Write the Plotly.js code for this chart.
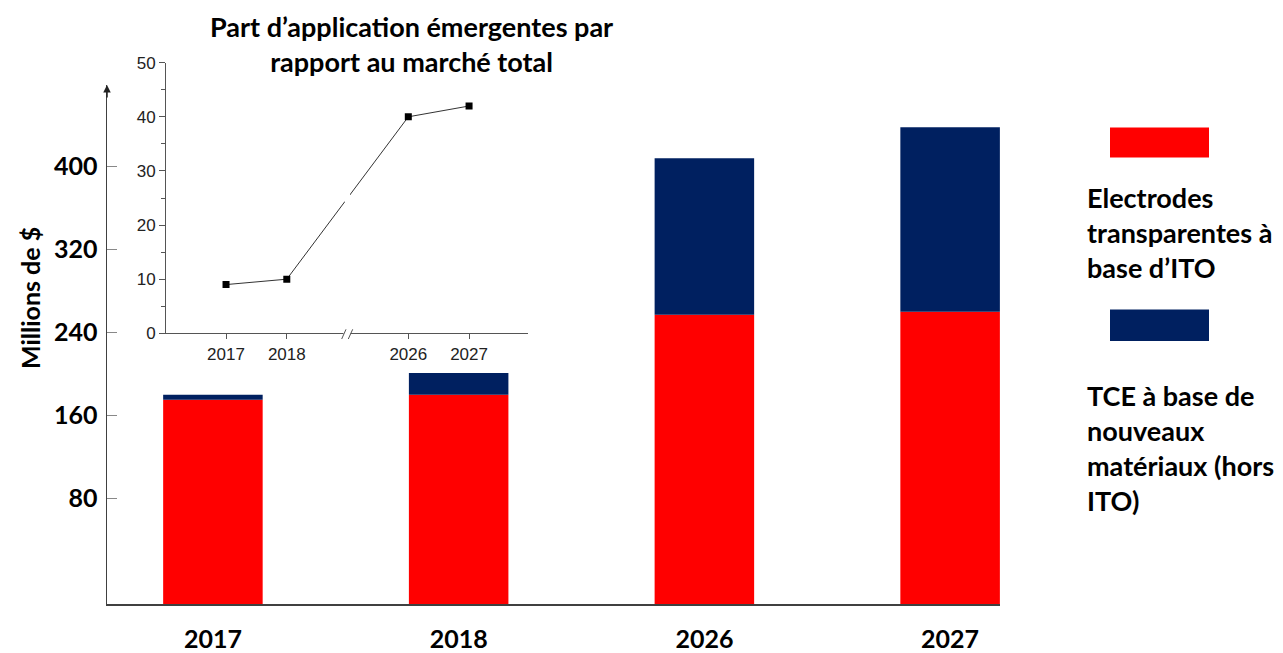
<!DOCTYPE html>
<html><head><meta charset="utf-8">
<script src="https://cdn.plot.ly/plotly-3.0.1.min.js"></script>
<style>body{margin:0;background:#fff}</style>
</head><body><div id="chart" style="width:1283px;height:653px"></div>
<script>
// ---- data ----
const years = ['2017', '2018', '2026', '2027'];
const itoValues = [175, 180, 257, 260];          // Electrodes transparentes à base d'ITO
const newMaterialValues = [5, 21, 151, 178];     // TCE à base de nouveaux matériaux (hors ITO)
const yTicks = [80, 160, 240, 320, 400];
const insetYears = [2017, 2018, 2026, 2027];
const insetShare = [9, 10, 40, 42];               // Part d'applications émergentes (%)
const insetTicks = [0, 10, 20, 30, 40, 50];

// ---- layout helpers (pixel geometry) ----
const W = 1283, H = 653;
const M = {l: 107, r: 283, t: 30, b: 49};
const PW = W - M.l - M.r, PH = H - M.t - M.b;
const px2x = px => (px - M.l) / PW;
const px2y = py => (H - M.b - py) / PH;
const AXIS_FLOOR = -22;                 // main axis starts below 0 (as in original drawing)
const BREAK_SHIFT = 6;                  // broken inset axis: 2019-2025 removed
const brk = y => (y <= 2018 ? y : y - BREAK_SHIFT);

const RED = '#FF0000', NAVY = '#002060';
const FAM = 'Lato, "Open Sans", sans-serif';
const numFont = {family: FAM, size: 25, color: '#000', weight: 'bold'};
const textFont = {family: FAM, size: 27, color: '#000', weight: 'bold'};
const insetFont = {family: '"Liberation Sans", Arial, sans-serif', size: 17, color: '#222'};

const traces = [
  {type: 'bar', x: years, y: itoValues.map(v => v - AXIS_FLOOR), base: years.map(() => AXIS_FLOOR),
   marker: {color: RED}, width: 0.405, xaxis: 'x', yaxis: 'y', name: "Electrodes transparentes à base d’ITO",
   showlegend: false, hoverinfo: 'skip'},
  {type: 'bar', x: years, y: newMaterialValues, base: itoValues,
   marker: {color: NAVY}, width: 0.405, xaxis: 'x', yaxis: 'y', name: 'TCE à base de nouveaux matériaux (hors ITO)',
   showlegend: false, hoverinfo: 'skip'},
  {type: 'scatter', mode: 'lines+markers', x: insetYears.map(brk), y: insetShare,
   xaxis: 'x2', yaxis: 'y2', line: {color: '#333', width: 1},
   marker: {symbol: 'square', size: 7, color: '#000'}, showlegend: false, hoverinfo: 'skip'}
];

const layout = {
  width: W, height: H, margin: M, paper_bgcolor: '#fff', plot_bgcolor: 'rgba(0,0,0,0)',
  barmode: 'overlay', showlegend: false,
  xaxis: {type: 'category', categoryorder: 'array', categoryarray: years, range: [-0.431, 3.203],
          domain: [0, 1], anchor: 'y', showline: true, linecolor: '#404040', linewidth: 1.5,
          ticks: '', showgrid: false, zeroline: false, tickfont: numFont, ticklabelstandoff: 12,
          fixedrange: true},
  yaxis: {domain: [0, px2y(85)], range: [AXIS_FLOOR, 478.8], anchor: 'x',
          tickvals: yTicks, ticktext: yTicks.map(String), ticks: 'inside', ticklen: 10,
          tickcolor: '#888', tickwidth: 1.5, showline: true, linecolor: '#404040', linewidth: 1.5,
          showgrid: false, zeroline: false, tickfont: numFont, ticklabelstandoff: 3, fixedrange: true},
  xaxis2: {domain: [px2x(166), px2x(528)], anchor: 'y2', range: [2016.012, 2021.97],
           tickvals: insetYears.map(brk), ticktext: insetYears.map(String),
           ticks: 'outside', ticklen: 5, tickcolor: '#555', showline: true, linecolor: '#555', linewidth: 1,
           showgrid: false, zeroline: false, tickfont: insetFont, ticklabelstandoff: 0},
  yaxis2: {domain: [px2y(333.3), px2y(62.7)], anchor: 'x2', range: [0, 50], tickvals: insetTicks,
           ticks: 'outside', ticklen: 6, tickcolor: '#555', showline: true, linecolor: '#555', linewidth: 1,
           minor: {tickvals: [5, 15, 25, 35, 45], ticks: 'outside', ticklen: 4, tickcolor: '#555'},
           showgrid: false, zeroline: false, tickfont: insetFont},
  shapes: [
    // legend swatches
    {type: 'rect', xref: 'paper', yref: 'paper', x0: px2x(1110), x1: px2x(1209), y0: px2y(157.5), y1: px2y(127.5),
     fillcolor: RED, line: {width: 0}},
    {type: 'rect', xref: 'paper', yref: 'paper', x0: px2x(1110), x1: px2x(1209), y0: px2y(341), y1: px2y(309.5),
     fillcolor: NAVY, line: {width: 0}},
    // axis break on inset
    {type: 'rect', xref: 'paper', yref: 'paper', x0: px2x(343.5), x1: px2x(350.5), y0: px2y(335), y1: px2y(331.5),
     fillcolor: '#fff', line: {width: 0}},
    {type: 'line', xref: 'paper', yref: 'paper', x0: px2x(341.7), y0: px2y(339), x1: px2x(346), y1: px2y(329.3),
     line: {color: '#555', width: 1}},
    {type: 'line', xref: 'paper', yref: 'paper', x0: px2x(348.3), y0: px2y(339), x1: px2x(352.7), y1: px2y(329.3),
     line: {color: '#555', width: 1}},
    {type: 'rect', xref: 'paper', yref: 'paper', x0: px2x(344.5), x1: px2x(350), y0: px2y(202), y1: px2y(194),
     fillcolor: '#fff', line: {width: 0}}
  ],
  annotations: [
    {text: 'Millions de $', xref: 'paper', yref: 'paper', x: px2x(30), y: px2y(298), textangle: -90,
     showarrow: false, font: numFont, xanchor: 'center', yanchor: 'middle'},
    {text: 'Part d’application émergentes par<br>rapport au marché total', xref: 'paper', yref: 'paper',
     x: px2x(411), y: px2y(44), showarrow: false, font: textFont, xanchor: 'center', yanchor: 'middle', align: 'center'},
    {text: 'Electrodes<br>transparentes à<br>base d’ITO', xref: 'paper', yref: 'paper',
     x: px2x(1085), y: px2y(232), showarrow: false, font: textFont, xanchor: 'left', yanchor: 'middle', align: 'left'},
    {text: 'TCE à base de<br>nouveaux<br>matériaux (hors<br>ITO)', xref: 'paper', yref: 'paper',
     x: px2x(1085), y: px2y(448), showarrow: false, font: textFont, xanchor: 'left', yanchor: 'middle', align: 'left'},
    {text: '', xref: 'paper', yref: 'paper', x: 0, y: px2y(85), ax: 0, ay: 14, axref: 'pixel', ayref: 'pixel',
     showarrow: true, arrowhead: 2, arrowsize: 1, arrowwidth: 1.5, arrowcolor: '#222', standoff: 0}
  ]
};

Plotly.newPlot('chart', traces, layout, {displayModeBar: false, staticPlot: true});
</script>
</body></html>
